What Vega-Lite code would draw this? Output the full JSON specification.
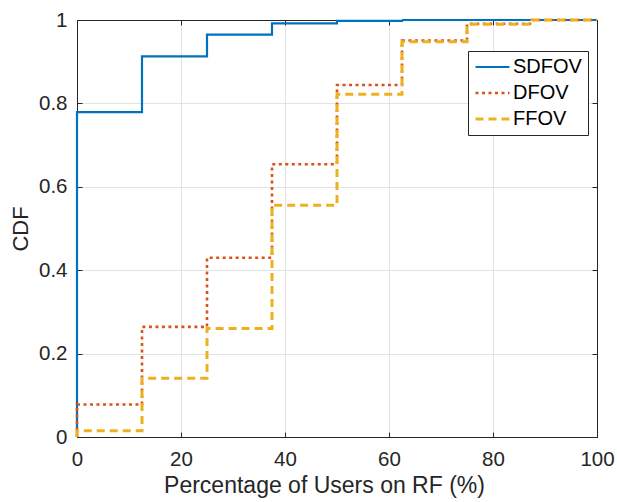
{
  "$schema": "https://vega.github.io/schema/vega-lite/v6.json",
  "width": 520,
  "height": 417,
  "autosize": {"type": "none"},
  "padding": {"left": 77, "top": 20, "right": 20, "bottom": 65},
  "config": {
    "font": "Liberation Sans",
    "view": {"stroke": "#262626", "strokeWidth": 1},
    "axis": {"labelColor": "#262626", "titleColor": "#262626", "labelFontSize": 20.5, "titleFontSize": 22, "titleFontWeight": "normal", "domainColor": "#262626", "tickColor": "#262626", "gridColor": "#e3e3e3", "tickSize": -5, "labelFont": "Liberation Sans", "titleFont": "Liberation Sans"}
  },
  "data": {"values": [
    {"series": "SDFOV", "x": 0, "y": 0},
    {"series": "SDFOV", "x": 0, "y": 0.779},
    {"series": "SDFOV", "x": 12.5, "y": 0.913},
    {"series": "SDFOV", "x": 25, "y": 0.965},
    {"series": "SDFOV", "x": 37.5, "y": 0.992},
    {"series": "SDFOV", "x": 50, "y": 0.998},
    {"series": "SDFOV", "x": 62.5, "y": 1},
    {"series": "SDFOV", "x": 100, "y": 1},
    {"series": "DFOV", "x": 0, "y": 0},
    {"series": "DFOV", "x": 0, "y": 0.078},
    {"series": "DFOV", "x": 12.5, "y": 0.264},
    {"series": "DFOV", "x": 25, "y": 0.43},
    {"series": "DFOV", "x": 37.5, "y": 0.654},
    {"series": "DFOV", "x": 50, "y": 0.844},
    {"series": "DFOV", "x": 62.5, "y": 0.951},
    {"series": "DFOV", "x": 75, "y": 0.991},
    {"series": "DFOV", "x": 87.5, "y": 1},
    {"series": "DFOV", "x": 100, "y": 1},
    {"series": "FFOV", "x": 0, "y": 0},
    {"series": "FFOV", "x": 0, "y": 0.015},
    {"series": "FFOV", "x": 12.5, "y": 0.141},
    {"series": "FFOV", "x": 25, "y": 0.26},
    {"series": "FFOV", "x": 37.5, "y": 0.556},
    {"series": "FFOV", "x": 50, "y": 0.822},
    {"series": "FFOV", "x": 62.5, "y": 0.948},
    {"series": "FFOV", "x": 75, "y": 0.99},
    {"series": "FFOV", "x": 87.5, "y": 1},
    {"series": "FFOV", "x": 100, "y": 1}
  ]},
  "resolve": {"axis": {"x": "independent", "y": "independent"}},
  "layer": [
    {
      "transform": [{"filter": "datum.series === 'SDFOV'"}],
      "mark": {"type": "line", "interpolate": "step-after"},
      "encoding": {
        "x": {"field": "x", "type": "quantitative", "scale": {"domain": [0, 100], "nice": false},
              "axis": {"values": [0, 20, 40, 60, 80, 100], "title": "Percentage of Users on RF (%)", "titleFontSize": 23, "titleX": 247, "grid": true, "labelFlush": false, "labelOverlap": false, "labelPadding": 17, "titlePadding": 5}},
        "y": {"field": "y", "type": "quantitative", "scale": {"domain": [0, 1], "nice": false},
              "axis": {"values": [0, 0.2, 0.4, 0.6, 0.8, 1], "format": "~g", "title": "CDF", "grid": true, "labelFlush": false, "labelPadding": 15, "titlePadding": 6}},
        "color": {"field": "series", "type": "nominal",
                  "scale": {"domain": ["SDFOV", "DFOV", "FFOV"], "range": ["#0072BD", "#D95319", "#EDB120"]},
                  "legend": {"title": null, "orient": "none", "legendX": 391, "legendY": 31, "padding": 6, "strokeColor": "#262626", "fillColor": "#ffffff", "labelFontSize": 20, "labelColor": "#000000", "symbolType": "M-1,0H3", "symbolSize": 289, "symbolStrokeWidth": 2.5, "labelOffset": 19, "rowPadding": 6, "labelFont": "Liberation Sans"}},
        "strokeDash": {"field": "series", "type": "nominal",
                       "scale": {"domain": ["SDFOV", "DFOV", "FFOV"], "range": [[1, 0], [3, 3.5], [8, 5]]}},
        "strokeWidth": {"field": "series", "type": "nominal", "legend": null,
                        "scale": {"domain": ["SDFOV", "DFOV", "FFOV"], "range": [2.2, 3, 2.2]}}
      }
    },
    {
      "transform": [{"filter": "datum.series === 'DFOV'"}],
      "mark": {"type": "line", "interpolate": "step-after"},
      "encoding": {
        "x": {"field": "x", "type": "quantitative", "axis": {"orient": "top", "values": [0, 20, 40, 60, 80, 100], "labels": false, "title": null, "grid": false}},
        "y": {"field": "y", "type": "quantitative", "axis": {"orient": "right", "values": [0, 0.2, 0.4, 0.6, 0.8, 1], "labels": false, "title": null, "grid": false}},
        "color": {"field": "series", "type": "nominal"},
        "strokeDash": {"field": "series", "type": "nominal"},
        "strokeWidth": {"field": "series", "type": "nominal", "legend": null}
      }
    },
    {
      "transform": [{"filter": "datum.series === 'FFOV'"}],
      "mark": {"type": "line", "interpolate": "step-after"},
      "encoding": {
        "x": {"field": "x", "type": "quantitative", "axis": null},
        "y": {"field": "y", "type": "quantitative", "axis": null},
        "color": {"field": "series", "type": "nominal"},
        "strokeDash": {"field": "series", "type": "nominal"},
        "strokeWidth": {"field": "series", "type": "nominal", "legend": null}
      }
    }
  ]
}
